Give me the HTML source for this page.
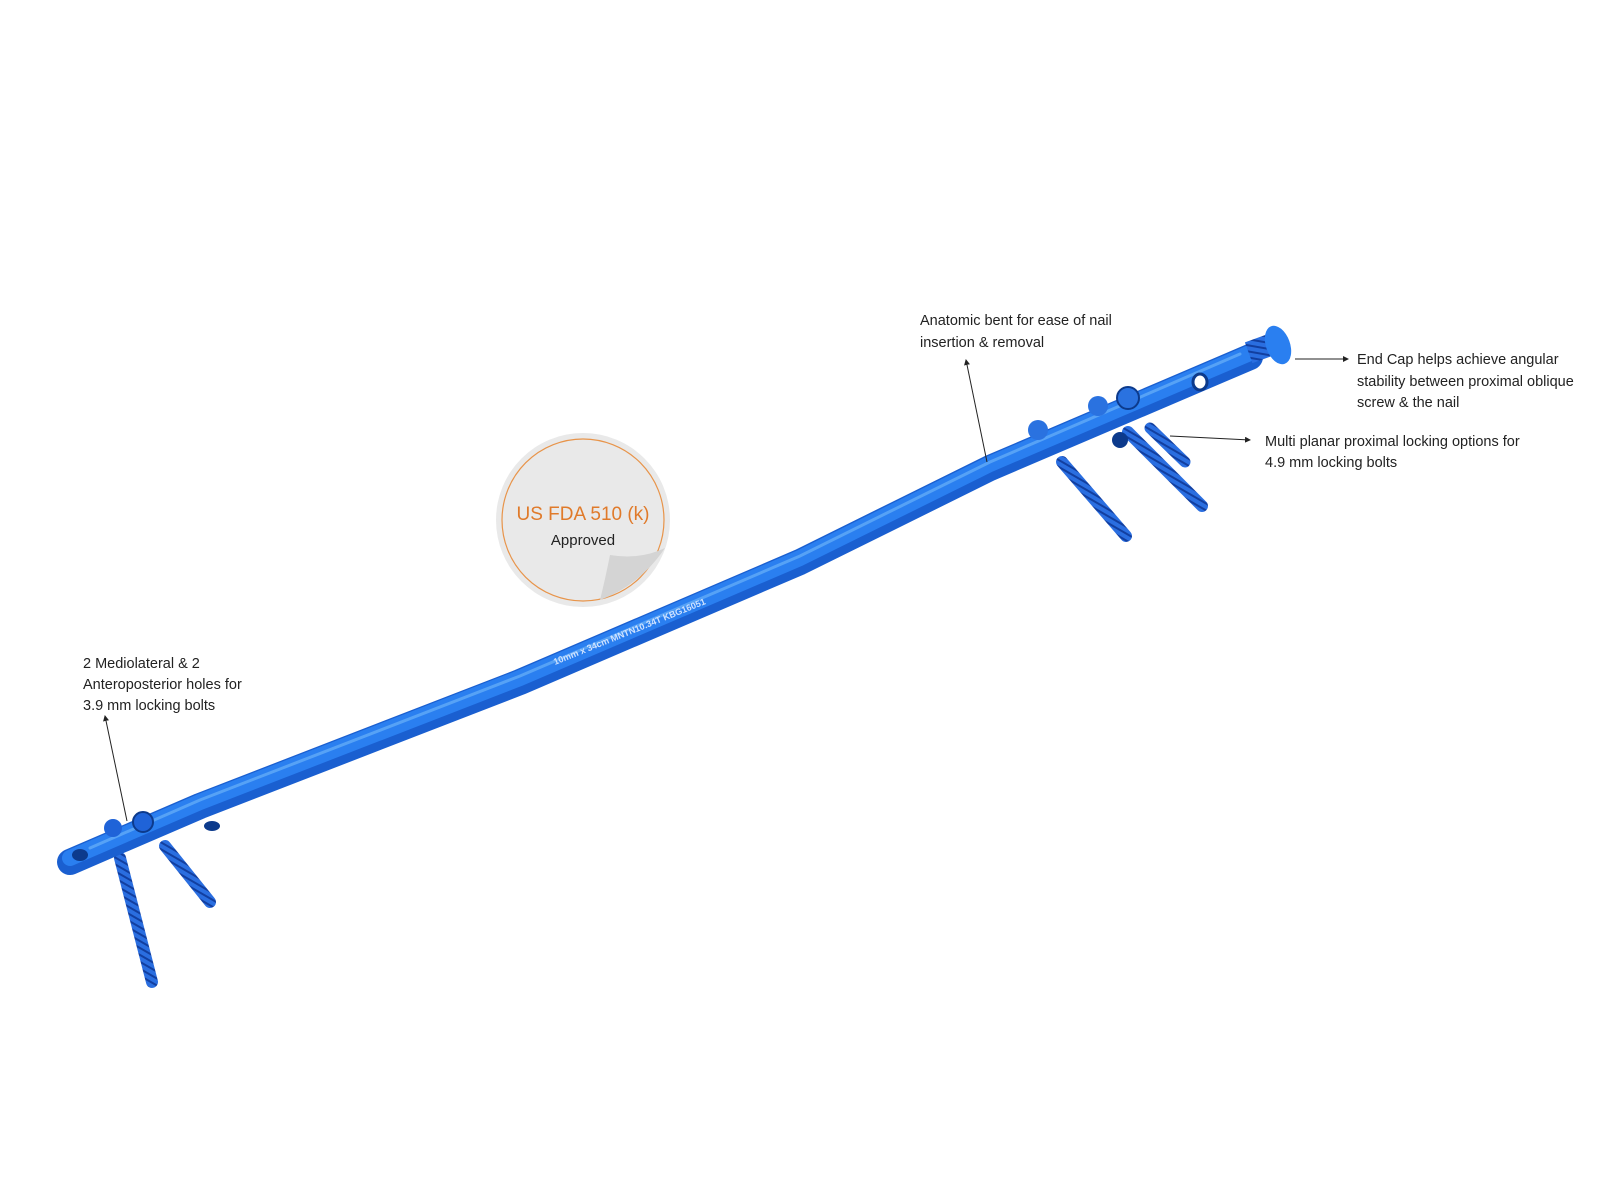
<!DOCTYPE html>
<html><head><meta charset="utf-8"><style>
html,body{margin:0;padding:0;background:#fff;}
svg{display:block;}
text{font-family:"Liberation Sans",sans-serif;}
</style></head><body>
<svg width="1600" height="1200" viewBox="0 0 1600 1200" xmlns="http://www.w3.org/2000/svg">
<defs>
<linearGradient id="nail" x1="0" y1="0" x2="0" y2="1">
<stop offset="0" stop-color="#4a9af0"/><stop offset="0.5" stop-color="#1f6fe0"/><stop offset="1" stop-color="#1656c4"/>
</linearGradient>
<pattern id="thread" width="6" height="6" patternUnits="userSpaceOnUse" patternTransform="rotate(30)">
<rect width="6" height="6" fill="#2a6ee0"/><rect width="6" height="2" fill="#123fa0"/>
</pattern>
<marker id="ah" markerWidth="6" markerHeight="6" refX="5" refY="3" orient="auto"><path d="M0,0 L6,3 L0,6 z" fill="#222"/></marker>
</defs>

<!-- FDA badge -->
<circle cx="583" cy="520" r="87" fill="#e9e9e9"/>
<circle cx="583" cy="520" r="81" fill="none" stroke="#e8944a" stroke-width="1.2"/>
<path d="M600,600 Q640,585 665,548 Q640,560 610,555 Q605,580 600,600 z" fill="#d4d4d4"/>
<text x="583" y="520" text-anchor="middle" font-size="19" fill="#e07a2a">US FDA 510 (k)</text>
<text x="583" y="545" text-anchor="middle" font-size="15" fill="#222">Approved</text>

<!-- distal screws -->
<path d="M120,858 L152,982" stroke="url(#thread)" stroke-width="12" stroke-linecap="round"/>
<path d="M165,846 L210,902" stroke="url(#thread)" stroke-width="12" stroke-linecap="round"/>
<!-- proximal screws -->
<path d="M1062,462 L1126,536" stroke="url(#thread)" stroke-width="12" stroke-linecap="round"/>
<path d="M1128,432 L1202,506" stroke="url(#thread)" stroke-width="12" stroke-linecap="round"/>
<path d="M1150,428 L1185,462" stroke="url(#thread)" stroke-width="11" stroke-linecap="round"/>

<!-- nail -->
<path d="M70,862 L200,806 L520,682 L800,562 L990,468 L1250,357" fill="none" stroke="#1a5fd0" stroke-width="26" stroke-linecap="round" stroke-linejoin="round"/>
<path d="M70,858 L200,802 L520,678 L800,558 L990,464 L1250,353" fill="none" stroke="#2a7ff0" stroke-width="16" stroke-linecap="round" stroke-linejoin="round"/>
<path d="M90,848 L200,800 L520,676 L800,556 L990,462 L1240,354" fill="none" stroke="#6ab0f8" stroke-width="3" stroke-linecap="round" opacity="0.7"/>
<text transform="translate(555,665) rotate(-22)" font-size="9" font-weight="bold" fill="#cfe3ff">10mm x 34cm MNTN10.34T KBG16051</text>
<ellipse cx="80" cy="855" rx="8" ry="6" fill="#0c3a8c"/>
<ellipse cx="212" cy="826" rx="8" ry="5" fill="#0c3a8c"/>
<ellipse cx="1200" cy="382" rx="7" ry="8" fill="#fff" stroke="#0c3a8c" stroke-width="3"/>
<ellipse cx="1120" cy="440" rx="8" ry="8" fill="#0c3a8c"/>
<!-- heads -->
<circle cx="113" cy="828" r="9" fill="#1f63d8"/>
<circle cx="143" cy="822" r="10" fill="#1f63d8" stroke="#0c3a8c" stroke-width="2"/>
<circle cx="1038" cy="430" r="10" fill="#2a72e0"/>
<circle cx="1098" cy="406" r="10" fill="#2a72e0"/>
<circle cx="1128" cy="398" r="11" fill="#2a72e0" stroke="#0c3a8c" stroke-width="2"/>
<!-- end cap -->
<rect x="1248" y="338" width="22" height="22" fill="url(#thread)" transform="rotate(-20 1259 349)"/>
<ellipse cx="1278" cy="345" rx="12" ry="20" fill="#2a7ff0" transform="rotate(-20 1278 345)"/>

<!-- leaders -->
<g stroke="#222" stroke-width="1" fill="none">
<line x1="987" y1="462" x2="966" y2="360" marker-end="url(#ah)"/>
<line x1="1295" y1="359" x2="1348" y2="359" marker-end="url(#ah)"/>
<line x1="1170" y1="436" x2="1250" y2="440" marker-end="url(#ah)"/>
<line x1="127" y1="821" x2="105" y2="716" marker-end="url(#ah)"/>
</g>

<g font-size="14.5" fill="#222">
<text x="920" y="325">Anatomic bent for ease of nail</text>
<text x="920" y="347">insertion &amp; removal</text>
<text x="1357" y="364">End Cap helps achieve angular</text>
<text x="1357" y="386">stability between proximal oblique</text>
<text x="1357" y="407">screw &amp; the nail</text>
<text x="1265" y="446">Multi planar proximal locking options for</text>
<text x="1265" y="467">4.9 mm locking bolts</text>
<text x="83" y="668">2 Mediolateral &amp; 2</text>
<text x="83" y="689">Anteroposterior holes for</text>
<text x="83" y="710">3.9 mm locking bolts</text>
</g>
</svg>
</body></html>
